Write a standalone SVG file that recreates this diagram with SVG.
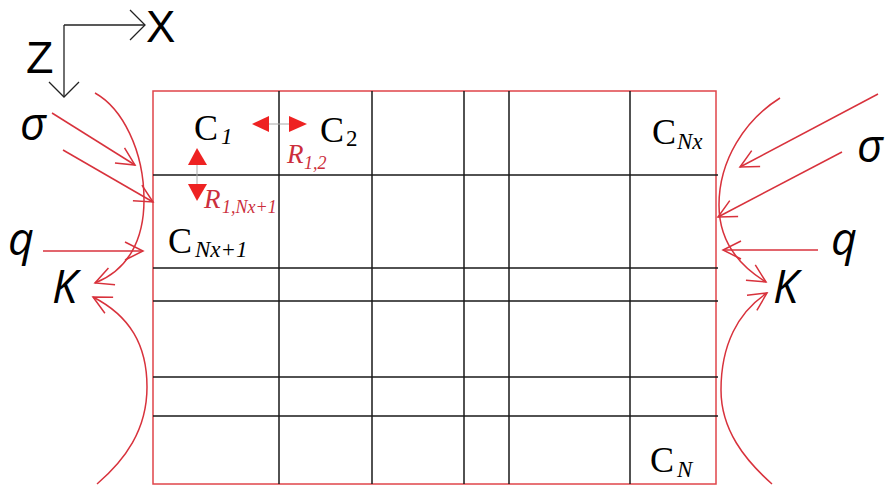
<svg xmlns="http://www.w3.org/2000/svg" width="888" height="485" viewBox="0 0 888 485">
<style>
.bg{fill:#fff}
.grid{stroke:#1a1a1a;stroke-width:1.5;fill:none}
.frame{stroke:#e0444a;stroke-width:1.5;fill:none}
.ax{stroke:#222;stroke-width:1.3;fill:none}
.red{stroke:#d8323c;stroke-width:1.5;fill:none}
.tri{fill:#ee2222}
.thin{stroke:#aaa;stroke-width:1}
.big{font-family:"Liberation Sans","Noto Sans",sans-serif;fill:#000}
.sym{font-family:"Open Sans","Noto Sans",sans-serif;font-style:italic;fill:#000;font-size:45px}
.cl{font-family:"Liberation Serif",serif;fill:#000;font-size:36px}
.sub{font-family:"Liberation Serif",serif;font-style:italic;font-size:23px}
.rl{font-family:"Liberation Serif",serif;font-style:italic;fill:#cc2e3c}
</style>
<defs>
<marker id="ah" viewBox="-22 -12 24 24" refX="0" refY="0" markerWidth="24" markerHeight="24" markerUnits="userSpaceOnUse" orient="auto">
<path d="M-18,-9 L0,0 L-18,9" fill="none" stroke="#d8323c" stroke-width="1.5"/>
</marker>
<marker id="axh" viewBox="-18 -18 20 36" refX="0" refY="0" markerWidth="20" markerHeight="36" markerUnits="userSpaceOnUse" orient="auto">
<path d="M-15,-15 L0,0 L-15,15" fill="none" stroke="#222" stroke-width="1.3"/>
</marker>
</defs>
<rect class="bg" x="0" y="0" width="888" height="485"/>

<g id="axes">
<path class="ax" d="M64,25 L145,25" marker-end="url(#axh)"/>
<path class="ax" d="M64,25 L64,97" marker-end="url(#axh)"/>
<text class="big" x="146" y="42" font-size="44">X</text>
<text class="big" x="26" y="73" font-size="45">Z</text>
</g>

<g id="grid">
<rect class="frame" x="153" y="91" width="563" height="393"/>
<path class="grid" d="M153,175 H718 M153,268 H718 M153,301 H718 M153,377 H718 M153,416 H718"/>
<path class="grid" d="M279,91 V484 M372,91 V484 M464,91 V484 M509,91 V484 M630,91 V484"/>
</g>

<g id="cell-C1"><text class="cl" x="194" y="140">C<tspan class="sub" x="221" y="144">1</tspan></text></g>
<g id="cell-C2"><text class="cl" x="320" y="142">C<tspan x="346" y="146" font-size="23">2</tspan></text></g>
<g id="cell-CNx"><text class="cl" x="652" y="144">C<tspan class="sub" x="677" y="149">Nx</tspan></text></g>
<g id="cell-CNx1"><text class="cl" x="168" y="253">C<tspan class="sub" x="195" y="257">Nx+1</tspan></text></g>
<g id="cell-CN"><text class="cl" x="650" y="472">C<tspan class="sub" x="677" y="477">N</tspan></text></g>

<g id="R12">
<line class="thin" x1="269" y1="124" x2="289" y2="124"/>
<polygon class="tri" points="252,124 269,116 269,132"/>
<polygon class="tri" points="307,124 289,116 289,132"/>
<text class="rl" x="287" y="163" font-size="27">R<tspan x="304" y="169" font-size="18">1,2</tspan></text>
</g>
<g id="R1Nx1">
<line class="thin" x1="197" y1="165" x2="197" y2="184"/>
<polygon class="tri" points="197,148 188,165 207,165"/>
<polygon class="tri" points="197,201 188,184 207,184"/>
<text class="rl" x="204" y="208" font-size="27">R<tspan x="222" y="213" font-size="18">1,Nx+1</tspan></text>
</g>

<g id="sigma-left"><text class="sym" x="20" y="140" font-size="47">σ</text></g>
<g id="q-left"><text class="sym" x="8" y="255">q</text></g>
<g id="K-left"><text class="sym" x="52" y="303" font-size="44">K</text></g>
<g id="sigma-right"><text class="sym" x="857" y="162" font-size="47">σ</text></g>
<g id="q-right"><text class="sym" x="831" y="255">q</text></g>
<g id="K-right"><text class="sym" x="773" y="303" font-size="44">K</text></g>

<g id="connectors">
<path class="red" d="M52,113 L135,165" marker-end="url(#ah)"/>
<path class="red" d="M63,150 L153,202" marker-end="url(#ah)"/>
<path class="red" d="M43,251 L143,251" marker-end="url(#ah)"/>
<path class="red" d="M95,93 C122,108 144,150 144,200 C144,240 128,270 95,283" marker-end="url(#ah)"/>
<path class="red" d="M97,484 C125,460 147,430 147,387 C147,345 130,316 93,297" marker-end="url(#ah)"/>
<path class="red" d="M878,94 L740,167" marker-end="url(#ah)"/>
<path class="red" d="M842,152 L718,217" marker-end="url(#ah)"/>
<path class="red" d="M818,250 L723,250" marker-end="url(#ah)"/>
<path class="red" d="M780,98 C745,120 719,160 719,205 C719,240 738,265 766,282" marker-end="url(#ah)"/>
<path class="red" d="M772,484 C745,460 721,430 721,390 C721,345 738,312 767,293" marker-end="url(#ah)"/>
</g>
</svg>
